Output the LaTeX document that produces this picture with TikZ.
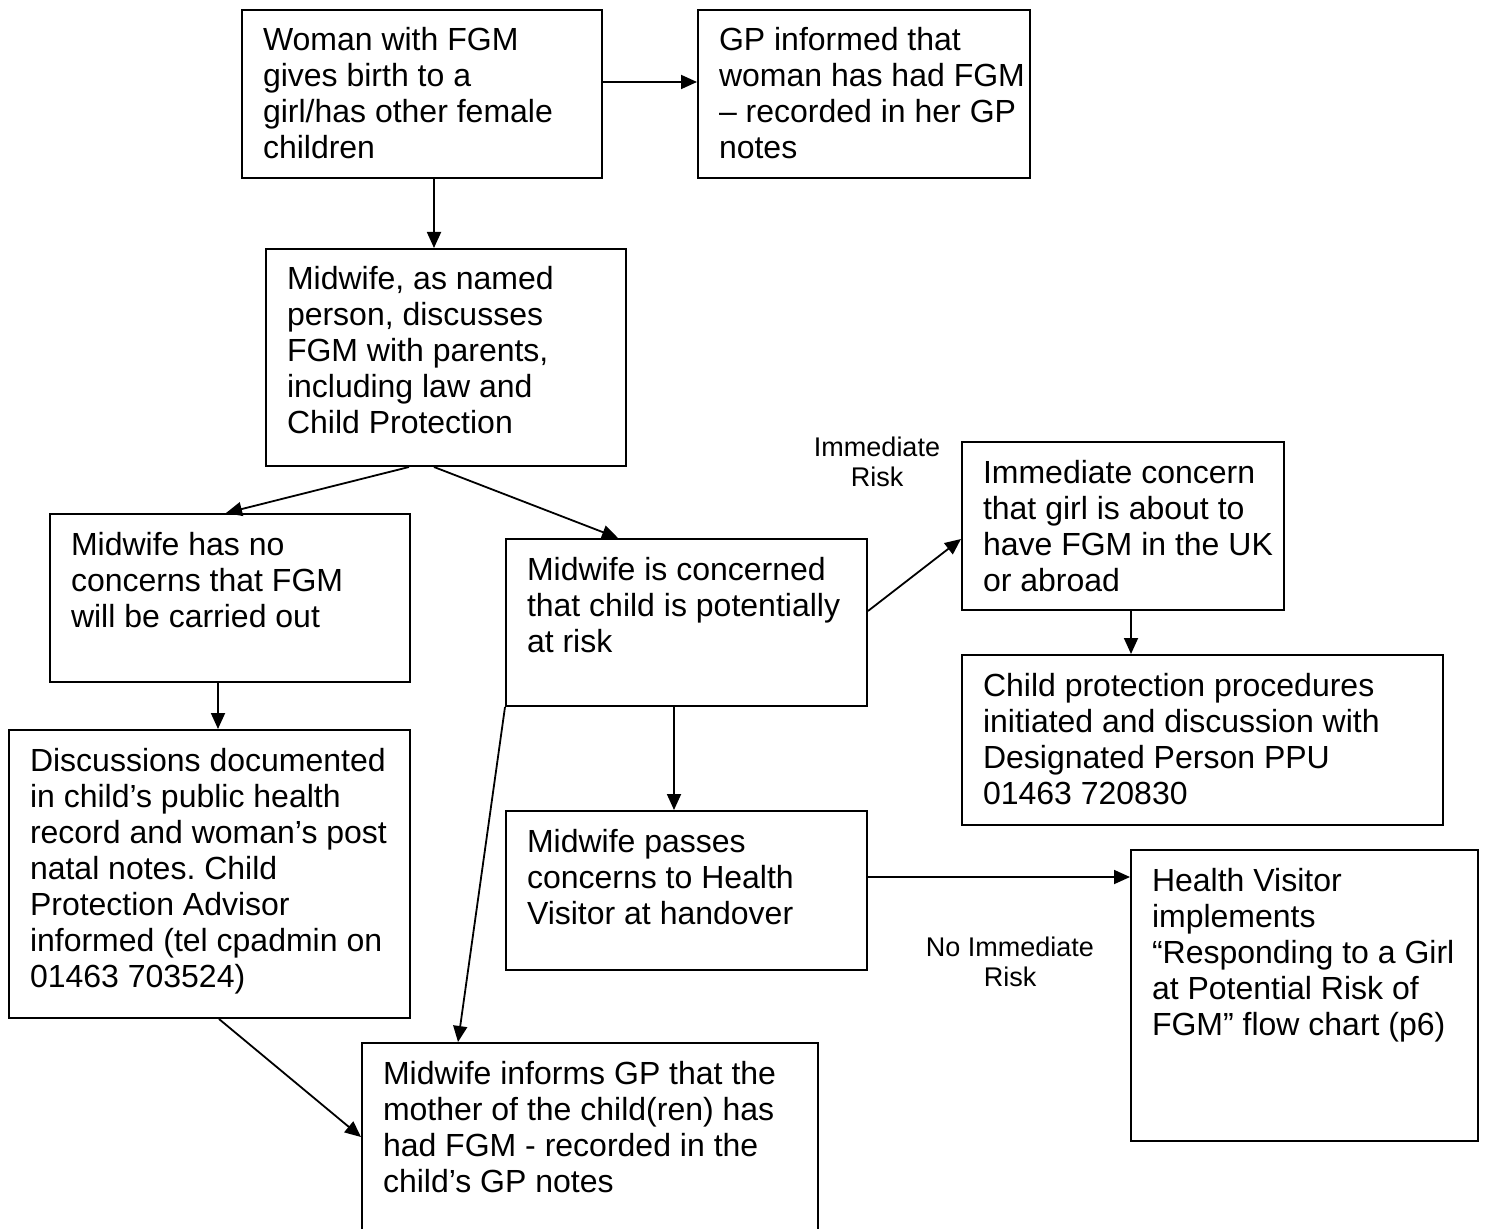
\documentclass[tikz,border=0pt]{standalone}
\usepackage{fontspec}
\setmainfont{Liberation Sans}
\usepackage{tikz}
\usetikzlibrary{arrows.meta}

\newcommand{\boxfont}{\fontsize{16}{18}\selectfont}
\newcommand{\riskfont}{\fontsize{13.5}{15}\selectfont}
\frenchspacing

\tikzset{
  flowbox/.style={draw, line width=1pt, anchor=north west, inner xsep=0pt,
    inner ysep=0pt, align=flush left, font=\boxfont, text height=20.5pt,
    execute at begin node={\leftskip=10.5pt\spaceskip=0pt\xspaceskip=0pt}},
  risklabel/.style={align=center, font=\riskfont, inner sep=0pt},
  link/.style={line width=0.9pt, ->, >={Triangle[length=8pt,width=7pt]}}
}

\begin{document}
\begin{tikzpicture}[x=0.5pt, y=-0.5pt]
\useasboundingbox (0,0) rectangle (1497,1229);
\clip (0,0) rectangle (1497,1229);
%%%%%%%%%%%%%%%%%%%
% The boxes

\node[flowbox, text width=180pt, text depth=63.5pt] (woman) at (241,9)
  {Woman with FGM\\gives birth to a\\girl/has other female\\children};
\node[flowbox, text width=166pt, text depth=63.5pt] (gpnotes) at (697,9)
  {GP informed that\\woman has had FGM\\– recorded in her GP\\notes};
\node[flowbox, text width=180pt, text depth=88pt] (named) at (265,248)
  {Midwife, as named\\person, discusses\\FGM with parents,\\including law and\\Child Protection};
\node[flowbox, text width=180pt, text depth=63.5pt] (noconcern) at (49,513)
  {Midwife has no\\concerns that FGM\\will be carried out};
\node[flowbox, text width=180.5pt, text depth=63pt] (concerned) at (505,538)
  {Midwife is concerned\\that child is potentially\\at risk};
\node[flowbox, text width=161pt, text depth=63.5pt] (immediate) at (961,441)
  {Immediate concern\\that girl is about to\\have FGM in the UK\\or abroad};
\node[flowbox, text width=240.5pt, text depth=64.5pt] (procedures) at (961,654)
  {Child protection procedures\\initiated and discussion with\\Designated Person PPU\\01463 720830};
\node[flowbox, text width=200.5pt, text depth=123.5pt] (documented) at (8,729)
  {Discussions documented\\in child’s public health\\record and woman’s post\\natal notes. Child\\Protection Advisor\\informed (tel cpadmin on\\01463 703524)};
\node[flowbox, text width=180.5pt, text depth=59pt] (handover) at (505,810)
  {Midwife passes\\concerns to Health\\Visitor at handover};
\node[flowbox, text width=173.5pt, text depth=125pt] (visitor) at (1130,849)
  {Health Visitor\\implements\\“Responding to a Girl\\at Potential Risk of\\FGM” flow chart (p6)};
\node[flowbox, text width=228pt, text depth=77pt] (informsgp) at (361,1042)
  {Midwife informs GP that the\\mother of the child(ren) has\\had FGM - recorded in the\\child’s GP notes};

%%%%%%%%%%%%%%%%%%%
% Risk labels

\node[risklabel] (immrisk) at (877,462) {Immediate\\Risk};
\node[risklabel] (noimmrisk) at (1010,962) {No Immediate\\Risk};

%%%%%%%%%%%%%%%%%%%
% Arrows

\draw[link] ([yshift=6pt]woman.east) -- ([yshift=6pt]gpnotes.west);
\draw[link] ([xshift=6pt]woman.south) -- ([xshift=6pt]woman.south |- named.north);

\draw[link] ([xshift=-18.5pt]named.south) -- ([xshift=-2pt]noconcern.north);
\draw[link] ([xshift=-6pt]named.south) -- ([xshift=-34.25pt]concerned.north);

\draw[link] ([xshift=-6pt]noconcern.south) -- ([xshift=-6pt]noconcern.south |- documented.north);

\draw[link] ([yshift=5.75pt]concerned.east) -- ([yshift=-6.5pt]immediate.west);
\draw[link] ([xshift=4pt]immediate.south) -- ([xshift=4pt]immediate.south |- procedures.north);

\draw[link] ([xshift=-6.25pt]concerned.south) -- ([xshift=-6.25pt]concerned.south |- handover.north);
\draw[link] ([yshift=6.75pt]handover.east) -- ([yshift=6.75pt]handover.east -| visitor.west);

\draw[link] ([xshift=4.75pt]documented.south) -- ([yshift=1.75pt]informsgp.west);
\draw[link] (concerned.south west) -- ([xshift=-66pt]informsgp.north);

\end{tikzpicture}
\end{document}
